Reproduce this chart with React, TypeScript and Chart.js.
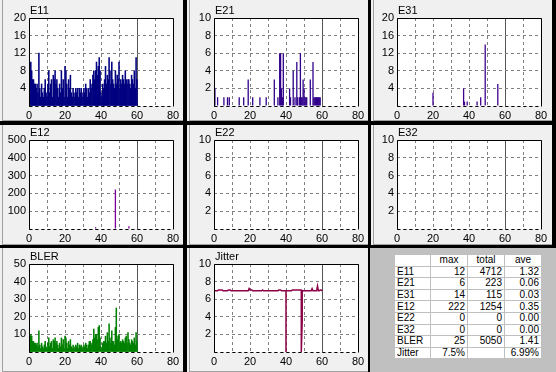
import React, { useEffect, useRef } from 'react';
import { Chart, registerables } from 'chart.js';

Chart.register(...registerables);

// ---------- data ----------
const X_MIN = 0;
const X_MAX = 80;
const X_STEP = 10;
const SAMPLE_STEP = 0.5;

const E11_VALUES = [
  10, 8, 10, 8, 6, 6, 5, 5, 4, 5, 3,
  12, 4, 2, 5, 3, 2, 4, 6, 3, 2,
  5, 8, 3, 5, 6, 2, 7, 6, 8, 5,
  6, 4, 2, 5, 3, 8, 4, 6, 2, 9,
  8, 5, 2, 6, 4, 7, 3, 2, 4, 3,
  2, 4, 3, 4, 2, 4, 3, 4, 2, 3,
  4, 3, 5, 4, 2, 4, 3, 6, 4, 5,
  7, 8, 6, 8, 10, 7, 9, 11, 8, 3,
  2, 5, 4, 6, 9, 5, 7, 6, 11, 8,
  5, 10, 6, 5, 4, 8, 5, 7, 6, 10,
  4, 6, 5, 7, 6, 5, 8, 6, 5, 6,
  6, 5, 4, 7, 6, 5, 8, 4, 11, 6,
];

const BLER_VALUES = [
  10, 8, 10, 9, 6, 6, 5, 5, 4, 5, 3,
  12, 4, 2, 5, 3, 2, 4, 6, 3, 2,
  5, 8, 3, 5, 6, 2, 7, 6, 8, 5,
  6, 4, 2, 5, 3, 8, 4, 7, 2, 9,
  8, 5, 2, 6, 4, 7, 3, 2, 4, 3,
  2, 4, 3, 5, 2, 4, 3, 4, 2, 3,
  4, 3, 5, 4, 2, 4, 6, 6, 4, 5,
  7, 13, 8, 10, 10, 7, 14, 15, 8, 3,
  2, 5, 6, 6, 9, 5, 11, 6, 16, 8,
  5, 12, 6, 6, 4, 14, 25, 7, 9, 10,
  5, 6, 5, 7, 6, 5, 8, 9, 5, 11,
  7, 5, 4, 7, 6, 5, 8, 4, 11, 6,
];

const E21_X = [0.5, 2, 5.5, 7.5, 8.5, 14, 16.5, 19, 21.5, 25.5, 29, 33.5, 35.5, 36.5, 37, 37.5, 38, 38.5, 42, 42.5, 44, 45, 46, 46.5, 47.5, 48, 48.5, 49, 49.5, 50, 50.5, 51, 51.5, 53.5, 55, 55.5, 56, 56.5, 57, 57.5, 58, 58.5, 59];
const E21_Y = [2, 1, 1, 1, 1, 1, 1, 3, 1, 1, 1, 3, 1, 6, 6, 2, 1, 6, 2, 1, 4, 1, 5, 1, 1, 6, 1, 1, 3, 2, 1, 1, 1, 3, 5, 1, 1, 1, 1, 1, 1, 1, 1];

const E31_X = [20, 37, 37.5, 39, 44.5, 46.5, 49, 56];
const E31_Y = [3, 4, 1, 1, 1, 2, 14, 5];

const E12_X = [37, 48, 55.5];
const E12_Y = [10, 222, 15];

const JITTER_X = [0, 0.1, 2, 2.5, 4.5, 5, 7.5, 8, 9, 9.5, 19, 19.5, 20, 21, 21.5, 26.5, 27, 27.5, 35.5, 36, 37, 37.5, 40, 40, 40, 43, 43.5, 48.5, 48.5, 49, 49, 54, 54.5, 55, 57, 57.5, 58, 58.5, 59, 59.5, 60];
const JITTER_Y = [0, 6.95, 6.95, 7.05, 7.05, 6.95, 6.95, 7.05, 7.05, 6.95, 6.95, 7.2, 7.05, 7.05, 6.95, 6.95, 7.05, 6.95, 6.95, 7.05, 7.05, 6.95, 6.95, 0, 6.95, 6.95, 7.05, 7.05, 0, 3.5, 6.95, 6.95, 7.2, 6.95, 6.95, 7.5, 6.95, 6.95, 7.05, 7.05, 6.95];

const TABLE_HEAD = ['', 'max', 'total', 'ave'];
const TABLE_LABELS = ['E11', 'E21', 'E31', 'E12', 'E22', 'E32', 'BLER', 'Jitter'];
const TABLE_MAX = ['12', '6', '14', '222', '0', '0', '25', '7.5%'];
const TABLE_TOTAL = ['4712', '223', '115', '1254', '0', '0', '5050', ''];
const TABLE_AVE = ['1.32', '0.06', '0.03', '0.35', '0.00', '0.00', '1.41', '6.99%'];

// ---------- helpers ----------
const dense = (vals: number[]) => vals.map((v, i) => ({ x: i * SAMPLE_STEP, y: v }));
const pairs = (xs: number[], ys: number[]) => xs.map((x, i) => ({ x, y: ys[i] }));

const FONT = '"Liberation Sans", Arial, sans-serif';

type PanelDef = {
  title: string;
  x: number; y: number; w: number; h: number;
  L: number; T: number; R: number; B: number;
  yMax: number; yStep: number;
  kind: 'bar' | 'line';
  points: { x: number; y: number }[];
  color: string;
  thickness?: number;
};

const COLS = [
  { x: 0, w: 183, L: 29, R: 173 },
  { x: 187, w: 181, L: 27, R: 171 },
  { x: 371, w: 181, L: 26, R: 170 },
];
const ROWS = [
  { y: 0, h: 121, T: 18, B: 106 },
  { y: 125, h: 120, T: 15, B: 104 },
  { y: 248, h: 124, T: 16, B: 104 },
];

function mk(title: string, c: number, r: number, yMax: number, yStep: number, kind: 'bar' | 'line', points: { x: number; y: number }[], color: string, thickness?: number): PanelDef {
  const col = COLS[c];
  const row = ROWS[r];
  return { title, x: col.x, y: row.y, w: col.w, h: row.h, L: col.L, R: col.R, T: row.T, B: row.B, yMax, yStep, kind, points, color, thickness };
}

const PANELS: PanelDef[] = [
  mk('E11', 0, 0, 20, 4, 'bar', dense(E11_VALUES), '#000080'),
  mk('E21', 1, 0, 10, 2, 'bar', pairs(E21_X, E21_Y), '#30008c', 1.3),
  mk('E31', 2, 0, 20, 4, 'bar', pairs(E31_X, E31_Y), '#400090', 1.3),
  mk('E12', 0, 1, 500, 100, 'bar', pairs(E12_X, E12_Y), '#7a009c', 1.3),
  mk('E22', 1, 1, 10, 2, 'bar', [], '#30008c', 1.3),
  mk('E32', 2, 1, 10, 2, 'bar', [], '#400090', 1.3),
  mk('BLER', 0, 2, 50, 10, 'bar', dense(BLER_VALUES), '#008000'),
  mk('Jitter', 1, 2, 10, 2, 'line', pairs(JITTER_X, JITTER_Y), '#8c0046'),
];

function ChartPanel({ def }: { def: PanelDef }) {
  const ref = useRef<HTMLCanvasElement | null>(null);
  useEffect(() => {
    if (!ref.current) return;
    const framePlugin = {
      id: 'frame',
      beforeDraw(chart: any) {
        const { ctx, chartArea: a } = chart;
        ctx.save();
        ctx.fillStyle = '#ffffff';
        ctx.fillRect(a.left, a.top, a.right - a.left, a.bottom - a.top);
        ctx.restore();
      },
      afterDraw(chart: any) {
        const { ctx, chartArea: a } = chart;
        ctx.save();
        ctx.strokeStyle = '#000000';
        ctx.lineWidth = 1;
        ctx.beginPath();
        ctx.moveTo(a.left + 0.5, a.bottom + 0.5);
        ctx.lineTo(a.left + 0.5, a.top + 0.5);
        ctx.lineTo(a.right + 0.5, a.top + 0.5);
        ctx.lineTo(a.right + 0.5, a.bottom + 0.5);
        ctx.stroke();
        ctx.setLineDash([3, 3]);
        ctx.beginPath();
        ctx.moveTo(a.left + 0.5, a.bottom + 0.5);
        ctx.lineTo(a.right + 0.5, a.bottom + 0.5);
        ctx.stroke();
        ctx.setLineDash([]);
        ctx.fillStyle = '#000000';
        ctx.font = `11px ${FONT}`;
        ctx.textAlign = 'left';
        ctx.textBaseline = 'alphabetic';
        ctx.fillText(def.title, a.left + 1, a.top - 4);
        ctx.restore();
      },
    };
    const tickFont = { family: FONT, size: 11 };
    const chart = new Chart(ref.current, {
      type: def.kind,
      data: {
        datasets: [
          {
            data: def.points,
            backgroundColor: def.color,
            borderColor: def.color,
            borderWidth: def.kind === 'line' ? 1.5 : 0,
            barThickness: def.thickness,
            inflateAmount: def.thickness ? 0 : 'auto',
            barPercentage: 1,
            categoryPercentage: 1,
            pointRadius: 0,
            fill: false,
            tension: 0,
          } as any,
        ],
      },
      options: {
        animation: false,
        responsive: false,
        maintainAspectRatio: false,
        devicePixelRatio: 1,
        events: [],
        layout: { padding: { left: 0, top: def.T, right: def.w - def.R, bottom: 0 } },
        plugins: {
          legend: { display: false },
          tooltip: { enabled: false },
          title: { display: false },
        },
        scales: {
          x: {
            type: 'linear',
            min: X_MIN,
            max: X_MAX,
            offset: false,
            grid: {
              offset: false,
              drawTicks: false,
              lineWidth: 1,
              color: (c: any) => (c.tick && c.tick.value === 60 ? '#555555' : '#808080'),
            },
            border: {
              display: false,
              dash: (c: any) => (c.tick && c.tick.value === 60 ? [] : [3, 3]),
            },
            ticks: {
              stepSize: X_STEP,
              autoSkip: false,
              maxRotation: 0,
              padding: 3,
              color: '#000000',
              font: tickFont,
              callback: (v: any) => (Number(v) % 20 === 0 ? String(v) : ''),
            },
            afterFit: (s: any) => {
              s.height = def.h - def.B;
            },
          },
          y: {
            type: 'linear',
            min: 0,
            max: def.yMax,
            grid: { drawTicks: false, lineWidth: 1, color: '#808080' },
            border: { display: false, dash: [3, 3] },
            ticks: {
              stepSize: def.yStep,
              padding: 3,
              color: '#000000',
              font: tickFont,
              callback: (v: any) => (Number(v) === 0 ? '' : String(v)),
            },
            afterFit: (s: any) => {
              s.width = def.L;
            },
          },
        },
      } as any,
      plugins: [framePlugin],
    });
    return () => chart.destroy();
  }, [def]);

  return (
    <div style={{ position: 'absolute', left: def.x, top: def.y, width: def.w, height: def.h, background: '#f0f0f0', overflow: 'hidden' }}>
      <div style={{ position: 'absolute', left: 2, top: 0, right: 0, bottom: 0, borderLeft: '1px solid #a0a0a0', borderBottom: '1px solid #a0a0a0' }} />
      <canvas ref={ref} width={def.w} height={def.h} style={{ position: 'absolute', left: 0, top: 0, width: def.w, height: def.h }} />
    </div>
  );
}

function StatsTable() {
  const cell: React.CSSProperties = {
    background: '#ffffff',
    padding: '0 2px',
    height: '10.6px',
    lineHeight: '10px',
    fontSize: '10px',
    fontFamily: FONT,
    color: '#000',
    whiteSpace: 'nowrap',
    overflow: 'hidden',
  };
  return (
    <div style={{ position: 'absolute', left: 370, top: 248, width: 186, height: 124, background: '#c0c0c0' }}>
      <table style={{ position: 'absolute', left: 24, top: 6, borderCollapse: 'separate', borderSpacing: '1px', tableLayout: 'fixed', width: 145 }}>
        <colgroup>
          <col style={{ width: 35 }} />
          <col style={{ width: 36 }} />
          <col style={{ width: 36 }} />
          <col style={{ width: 36 }} />
        </colgroup>
        <tbody>
          <tr>
            {TABLE_HEAD.map((h, i) => (
              <td key={i} style={{ ...cell, textAlign: 'center' }}>{h}</td>
            ))}
          </tr>
          {TABLE_LABELS.map((lab, i) => (
            <tr key={lab}>
              <td style={{ ...cell, textAlign: 'left' }}>{lab}</td>
              <td style={{ ...cell, textAlign: 'right' }}>{TABLE_MAX[i]}</td>
              <td style={{ ...cell, textAlign: 'right' }}>{TABLE_TOTAL[i]}</td>
              <td style={{ ...cell, textAlign: 'right' }}>{TABLE_AVE[i]}</td>
            </tr>
          ))}
        </tbody>
      </table>
    </div>
  );
}

export default function App() {
  return (
    <div style={{ position: 'fixed', left: 0, top: 0, width: 556, height: 372, background: '#000000', overflow: 'hidden' }}>
      {PANELS.map((p) => (
        <ChartPanel key={p.title} def={p} />
      ))}
      <StatsTable />
    </div>
  );
}
